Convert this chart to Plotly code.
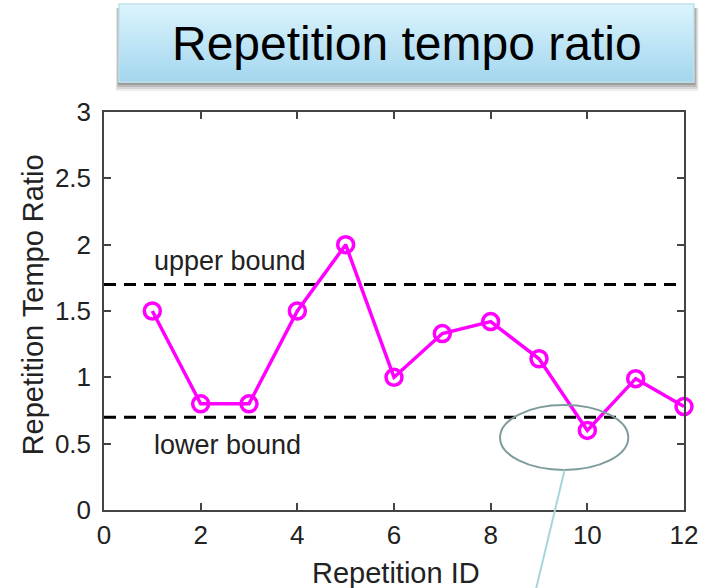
import plotly.graph_objects as go

# ---- data ----
rep_id = [1, 2, 3, 4, 5, 6, 7, 8, 9, 10, 11, 12]
tempo_ratio = [1.5, 0.8, 0.8, 1.5, 2.0, 1.0, 1.33, 1.42, 1.14, 0.6, 0.99, 0.78]
upper_bound = 1.7
lower_bound = 0.7
x_ticks = [0, 2, 4, 6, 8, 10, 12]
y_ticks = [0, 0.5, 1, 1.5, 2, 2.5, 3]
y_tick_text = ["0", "0.5", "1", "1.5", "2", "2.5", "3"]
title_text = "Repetition tempo ratio"

W, H = 710, 588
L, R, T, B = 104, 23, 112, 78
PW, PH = W - L - R, H - T - B


def px(x):
    return (x - L) / PW


def py(y):
    return (H - B - y) / PH


FONT = "Liberation Sans, Arial, sans-serif"

fig = go.Figure()

fig.add_trace(go.Scatter(
    x=[0, 12], y=[upper_bound, upper_bound], mode="lines",
    line=dict(color="black", width=3, dash="12px,8px"), hoverinfo="skip",
    showlegend=False))
fig.add_trace(go.Scatter(
    x=[0, 12], y=[lower_bound, lower_bound], mode="lines",
    line=dict(color="black", width=3, dash="12px,8px"), hoverinfo="skip",
    showlegend=False))
fig.add_trace(go.Scatter(
    x=rep_id, y=tempo_ratio, mode="lines+markers",
    line=dict(color="#ff00ff", width=3.5),
    marker=dict(symbol="circle-open", size=16, color="#ff00ff",
                line=dict(color="#ff00ff", width=3.5)),
    showlegend=False, cliponaxis=False))

shapes = []
# title box shadow
for i, (op, d) in enumerate([(0.10, 9), (0.15, 7), (0.22, 5), (0.3, 3)]):
    shapes.append(dict(type="rect", xref="paper", yref="paper",
                       x0=px(119 - d / 3), x1=px(697 + d / 2), y0=py(82 + d), y1=py(8),
                       fillcolor=f"rgba(90,90,90,{op})", line=dict(width=0), layer="above"))
# gradient box
top_c = (218, 243, 253)
bot_c = (164, 215, 238)
n = 26
y_top, y_bot = 4, 82
for i in range(n):
    t = i / (n - 1)
    c = tuple(int(round(top_c[k] + (bot_c[k] - top_c[k]) * t)) for k in range(3))
    ya = y_top + (y_bot - y_top) * i / n
    yb = y_top + (y_bot - y_top) * (i + 1) / n
    shapes.append(dict(type="rect", xref="paper", yref="paper",
                       x0=px(119), x1=px(697), y0=py(yb + 0.5), y1=py(ya),
                       fillcolor=f"rgb{c}", line=dict(width=0), layer="above"))
shapes.append(dict(type="rect", xref="paper", yref="paper",
                   x0=px(119), x1=px(697), y0=py(y_bot), y1=py(y_top),
                   fillcolor="rgba(0,0,0,0)", line=dict(color="#bfe2e8", width=1.5),
                   layer="above"))
# callout ellipse + line
shapes.append(dict(type="circle", xref="paper", yref="paper",
                   x0=px(502), x1=px(631), y0=py(470), y1=py(405),
                   line=dict(color="#7f9c9d", width=2), layer="above"))
shapes.append(dict(type="line", xref="paper", yref="paper",
                   x0=px(567), y0=py(470), x1=px(538), y1=py(590),
                   line=dict(color="#a6d6dc", width=2), layer="above"))

annotations = [
    dict(text=title_text, xref="paper", yref="paper", x=px(409), y=py(44),
         xanchor="center", yanchor="middle", showarrow=False,
         font=dict(family=FONT, size=48, color="black")),
    dict(text="upper bound", xref="x", yref="y", x=1.0, y=1.88,
         xanchor="left", yanchor="middle", showarrow=False,
         font=dict(family=FONT, size=27, color="#222")),
    dict(text="lower bound", xref="x", yref="y", x=1.0, y=0.49,
         xanchor="left", yanchor="middle", showarrow=False,
         font=dict(family=FONT, size=27, color="#222")),
    dict(text="Repetition ID", xref="paper", yref="paper", x=px(398), y=py(573),
         xanchor="center", yanchor="middle", showarrow=False,
         font=dict(family=FONT, size=29, color="#222")),
    dict(text="Repetition Tempo Ratio", xref="paper", yref="paper", x=px(33), y=py(305),
         xanchor="center", yanchor="middle", showarrow=False, textangle=-90,
         font=dict(family=FONT, size=29, color="#222")),
]

fig.update_layout(
    width=W, height=H,
    margin=dict(l=L, r=R, t=T, b=B, pad=0),
    paper_bgcolor="white", plot_bgcolor="white",
    shapes=shapes, annotations=annotations,
    font=dict(family=FONT, color="#222"),
    xaxis=dict(range=[0, 12], tickvals=x_ticks, ticks="inside", ticklen=7,
               tickwidth=1.5, tickcolor="#444", showline=True, linecolor="#444",
               linewidth=1.5, mirror="ticks", showgrid=False, zeroline=False,
               tickfont=dict(family=FONT, size=26, color="#222"),
               ticklabelstandoff=1),
    yaxis=dict(range=[0, 3], tickvals=y_ticks, ticktext=y_tick_text, ticks="inside",
               ticklen=7, tickwidth=1.5, tickcolor="#444", showline=True,
               linecolor="#444", linewidth=1.5, mirror="ticks", showgrid=False,
               zeroline=False, tickfont=dict(family=FONT, size=26, color="#222"),
               ticklabelstandoff=6),
)

fig.write_html("out.html", config={"displayModeBar": False},
               post_script="document.body.style.margin='0';document.body.style.overflow='hidden';")
